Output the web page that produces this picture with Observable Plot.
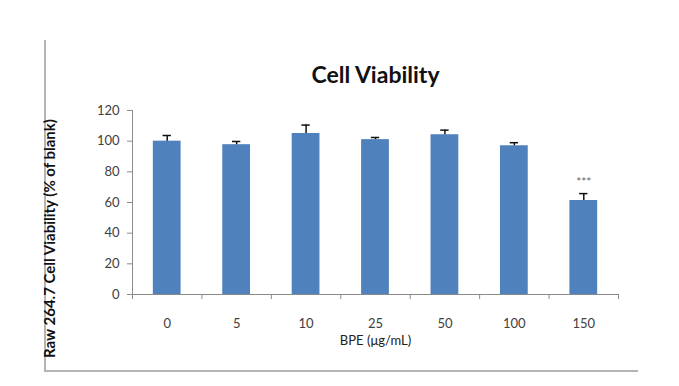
<!DOCTYPE html>
<html>
<head>
<meta charset="utf-8">
<script src="https://cdn.jsdelivr.net/npm/d3@7"></script>
<script src="https://cdn.jsdelivr.net/npm/@observablehq/plot@0.6"></script>
<style>
  html, body { margin: 0; padding: 0; background: #fff; }
  #wrap { position: relative; width: 679px; height: 386px; }
  #frame { position: absolute; left: 44px; top: 40px; width: 592px; height: 330px;
           border-left: 2px solid #b4b4b4; border-bottom: 2px solid #b4b4b4; pointer-events: none; }
</style>
</head>
<body>
<div id="wrap"><div id="frame"></div></div>
<script>
const categories = ["0", "5", "10", "25", "50", "100", "150"];
const values = [100, 97.7, 105, 101, 104.2, 97, 61.3];
const errors = [3.7, 2.1, 5.5, 1.4, 3, 2, 4.5];
const significance = ["", "", "", "", "", "", "***"];
const yTicks = [0, 20, 40, 60, 80, 100, 120];
const titleText = "Cell Viability";
const yLabel = "Raw 264.7 Cell Viability (% of blank)";
const xLabel = "BPE (\u03bcg/mL)";

const data = categories.map((c, i) => ({
  cat: c, i, value: values[i], err: errors[i], sig: significance[i]
}));

const font = "Lato, 'Open Sans', sans-serif";

const chart = Plot.plot({
  width: 679,
  height: 386,
  marginLeft: 132,
  marginRight: 61,
  marginTop: 110,
  marginBottom: 92,
  style: { fontFamily: font, background: "transparent", overflow: "visible" },
  x: { type: "linear", domain: [0, categories.length], axis: null },
  y: { domain: [0, 120], axis: null },
  marks: [
    Plot.rectY(data, { x1: d => d.i + 0.3, x2: d => d.i + 0.7, y1: 0, y2: "value", fill: "#4f81bd" }),
    Plot.ruleX(data, { x: d => d.i + 0.5, y1: "value", y2: d => d.value + d.err, stroke: "#111", strokeWidth: 1.5 }),
    Plot.ruleY(data, { x1: d => d.i + 0.44, x2: d => d.i + 0.56, y: d => d.value + d.err, stroke: "#111", strokeWidth: 1.5 }),
    Plot.text(data.filter(d => d.sig), { x: d => d.i + 0.5, y: d => d.value + d.err, text: "sig", dy: -11, fontSize: 12, fill: "#666", fontFamily: font, letterSpacing: "2px" }),
    // x axis line and boundary ticks
    Plot.ruleY([0], { stroke: "#8a8a8a", strokeWidth: 1 }),
    Plot.axisX({ ticks: d3.range(categories.length + 1), tickFormat: () => "", tickSize: 5, stroke: "#8a8a8a", label: null }),
    Plot.axisX({ ticks: d3.range(categories.length).map(i => i + 0.5), tickFormat: (d) => categories[Math.floor(d)], tickSize: 0, tickPadding: 24, fontSize: 13, fill: "#404040", label: null }),
    // y axis
    Plot.ruleX([0], { stroke: "#8a8a8a", strokeWidth: 1 }),
    Plot.axisY({ ticks: yTicks, tickSize: 5, tickPadding: 8, stroke: "#8a8a8a", fontSize: 13, fill: "#404040", label: null }),
    // labels
    Plot.text([titleText], { frameAnchor: "top", dy: -44, fontSize: 23, fontWeight: "bold", fill: "#111", fontFamily: font }),
    Plot.text([xLabel], { frameAnchor: "bottom", dy: 50, fontSize: 13, fill: "#222", fontFamily: font }),
    Plot.text([yLabel], { frameAnchor: "left", textAnchor: "middle", dx: -82, dy: 36, rotate: -90, fontSize: 15, fontWeight: "bold", fill: "#111", fontFamily: font })
  ]
});
document.getElementById("wrap").appendChild(chart);
chart.style.position = "absolute";
chart.style.left = "0px";
chart.style.top = "0px";
</script>
</body>
</html>
